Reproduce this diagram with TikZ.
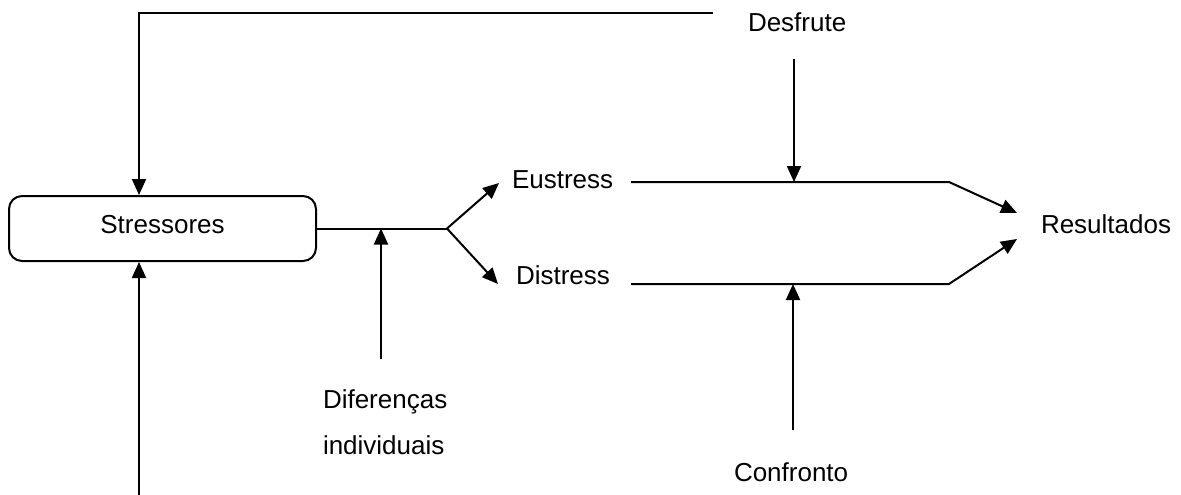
\documentclass[tikz,border=0pt]{standalone}
\usepackage{fontspec}
\setmainfont{Liberation Sans}
\usetikzlibrary{arrows.meta}
\begin{document}
\begin{tikzpicture}[x=1pt,y=-1pt,line width=2pt,
  lbl/.style={inner sep=0pt,anchor=base west,font=\fontsize{26}{46}\selectfont},
  arr/.style={-{Triangle[length=16pt,width=14pt]}},
  boxnode/.style={draw,rounded corners=13pt,minimum width=307pt,minimum height=65pt,
    inner sep=0pt,text depth=7.5pt,font=\fontsize{26}{46}\selectfont}]
\useasboundingbox (0,0) rectangle (1181,495);
% nodes
\node[boxnode] (stress) at (162.5,228.5) {Stressores};
\node[lbl] (desfrute) at (747,32) {Desfrute};
\node[lbl] (eustress) at (511,188) {Eustress};
\node[lbl] (distress) at (515,284) {Distress};
\node[lbl] (result) at (1040,233) {Resultados};
\node[lbl] (difer) at (322,408) {\vtop{\hbox{Diferenças}\hbox{individuais}}};
\node[lbl] (confr) at (733,481) {Confronto};
% coordinates
\coordinate (tl) at (713,13);
\coordinate (tc) at (139,13);
\coordinate (bc) at (139,495);
\coordinate (br) at (447,228.5);
\coordinate (eTip) at (499,183);
\coordinate (dTip) at (498,284);
\coordinate (dTop) at (381,359);
\coordinate (eL) at (631,182);
\coordinate (eR) at (949,182);
\coordinate (dL) at (631,284);
\coordinate (dR) at (949,284);
\coordinate (rTop) at (1017,213);
\coordinate (rBot) at (1017,239);
\coordinate (fA) at (794,59);
\coordinate (cA) at (793,430);
% connectors
\draw[arr] (tl) -- (tc) -- (tc |- stress.north);
\draw[arr] (bc) -- (bc |- stress.south);
\draw (stress.east) -- (br);
\draw[arr] (br) -- (eTip);
\draw[arr] (br) -- (dTip);
\draw[arr] (dTop) -- (dTop |- br);
\draw[arr] (eL) -- (eR) -- (rTop);
\draw[arr] (dL) -- (dR) -- (rBot);
\draw[arr] (fA) -- (fA |- eL);
\draw[arr] (cA) -- (cA |- dL);
\end{tikzpicture}
\end{document}
